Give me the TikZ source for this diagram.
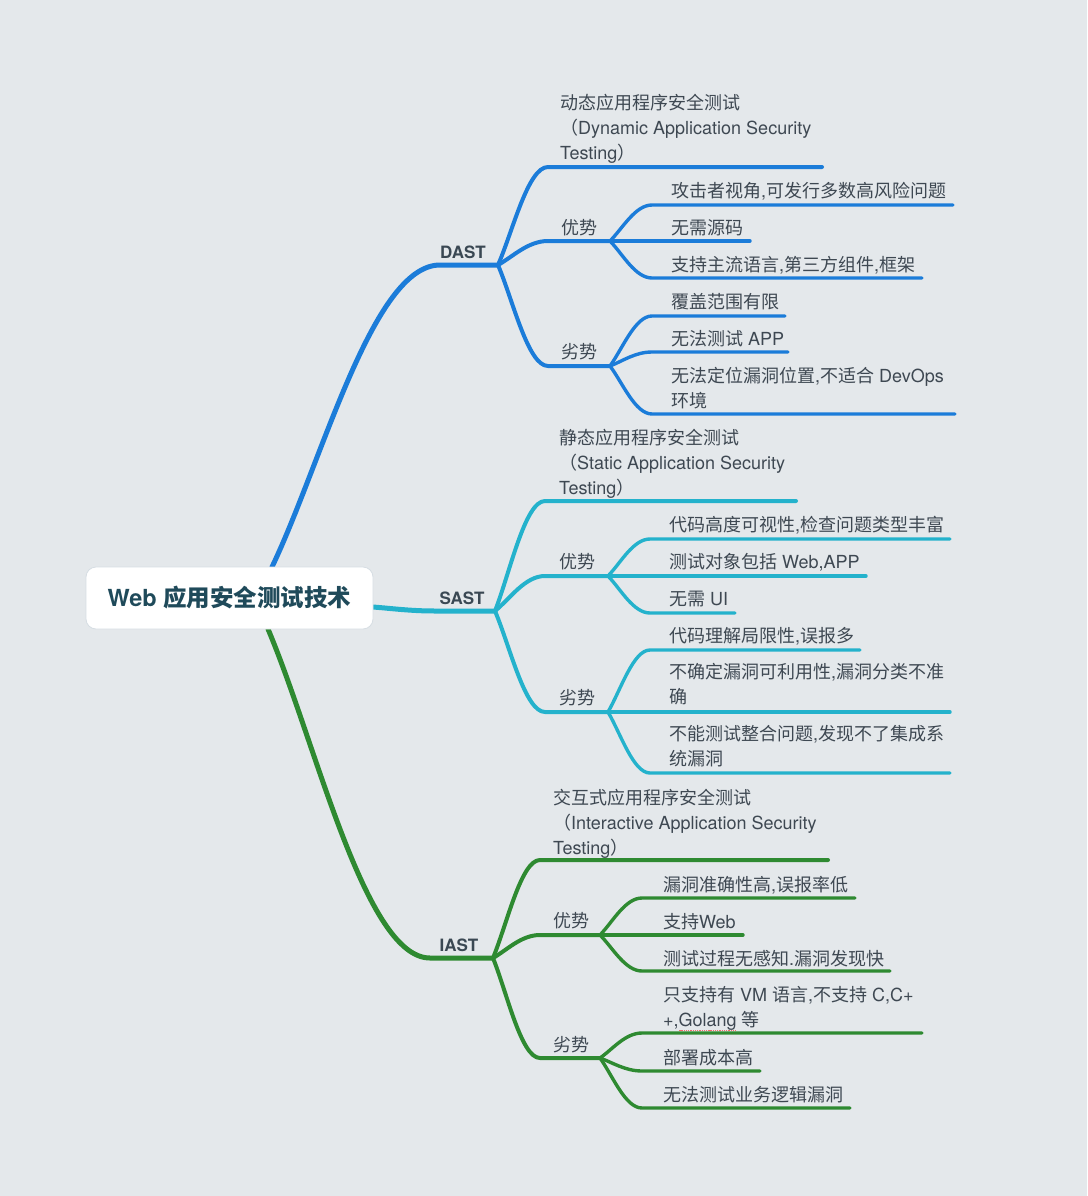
\documentclass[tikz,border=0pt]{standalone}
\usepackage{fontspec}
\setmainfont{TeX Gyre Heros}
\newfontfamily\cjkf{Noto Sans CJK SC}
% automatic switch to the CJK family for CJK characters
\XeTeXinterchartokenstate=1
\newXeTeXintercharclass\CJKcls
\newcount\tmpc
\tmpc="3000 \loop \XeTeXcharclass\tmpc=\CJKcls \advance\tmpc by 1 \ifnum\tmpc<"3040 \repeat
\tmpc="4E00 \loop \XeTeXcharclass\tmpc=\CJKcls \advance\tmpc by 1 \ifnum\tmpc<"A000 \repeat
\tmpc="FF00 \loop \XeTeXcharclass\tmpc=\CJKcls \advance\tmpc by 1 \ifnum\tmpc<"FF61 \repeat
\XeTeXinterchartoks 0 \CJKcls = {\begingroup\cjkf}
\XeTeXinterchartoks 4095 \CJKcls = {\begingroup\cjkf}
\XeTeXinterchartoks \CJKcls 0 = {\endgroup}
\XeTeXinterchartoks \CJKcls 4095 = {\endgroup}
\usetikzlibrary{calc}
\definecolor{bgc}{HTML}{E4E8EB}
\definecolor{dblue}{HTML}{1B7CD9}
\definecolor{scyan}{HTML}{24B2CC}
\definecolor{igreen}{HTML}{2E8A31}
\definecolor{txt}{HTML}{3E4852}
\definecolor{labtxt}{HTML}{3A4853}
\definecolor{roottxt}{HTML}{1F4A5A}
\definecolor{rootborder}{HTML}{D6DDE3}
\definecolor{spellred}{HTML}{F06A6A}
\pgfdeclarelayer{bglayer}
\pgfdeclarelayer{lines}
\pgfsetlayers{bglayer,lines,main}
\newcommand\spellmark[1]{\setbox0=\hbox{#1}\rlap{\raisebox{-4pt}{\color{spellred}\xleaders\hbox to 2.2pt{\hss\rule{1.3pt}{1.3pt}\hss}\hskip\wd0}}#1}
\tikzset{
  curve/.style={to path={let \p1=(\tikztostart), \p2=(\tikztotarget) in
      .. controls ({\x1+0.3*(\x2-\x1)},{\y1+0.35*(\y2-\y1)}) and ({\x1+0.6*(\x2-\x1)},\y2) .. (\tikztotarget)}},
  txtbase/.style={inner sep=0pt, text=txt, font=\fontsize{18}{25}\selectfont, align=left},
  txtn/.style={txtbase, anchor=west, text height=0.88em, text depth=0.12em, yshift=-3pt},
  multi/.style={txtbase, anchor=north west},
  lab/.style={inner sep=0pt, text=labtxt, font=\bfseries\fontsize{17}{20}\selectfont},
  rootbox/.style={draw=rootborder, line width=0.8pt, fill=white, rounded corners=10pt, minimum width=287pt, minimum height=62pt, inner sep=0pt, text=roottxt, font=\bfseries\fontsize{23.5}{26}\selectfont},
  l1/.style={line width=5pt, line cap=round, line join=round},
  l2/.style={line width=4pt, line cap=round, line join=round},
  l3/.style={line width=3.4pt, line cap=round, line join=round}
}
\begin{document}
\begin{tikzpicture}[x=1pt,y=-1pt]
\begin{pgfonlayer}{bglayer}
\fill[bgc] (0,0) rectangle (1087,1196);
\end{pgfonlayer}
\useasboundingbox (0,0) rectangle (1087,1196);

% root
\node[rootbox] (root) at (229.5,598) {Web 应用安全测试技术};
\coordinate (rD) at (272,567);
\coordinate (rS) at (373,607);
\coordinate (rI) at (268,629);

% ===== DAST =====
\coordinate (dH) at (440,265); \coordinate (dJ) at (498,265);
\node[lab] (dast) at (463,252) {DAST};
\node[multi] (dT) at (560,93.5) {动态应用程序安全测试\\（Dynamic Application Security\\Testing）};
\coordinate (dTs) at (548,167); \coordinate (dTe) at (822,167);
\node[txtn] (dA) at (561,227.5) {优势};
\coordinate (dAs) at (548,241); \coordinate (dAj) at (610,241);
\node[txtn] (dB) at (561,351.5) {劣势};
\coordinate (dBs) at (548,366); \coordinate (dBj) at (610,366);
\node[txtn] (dA1) at (671,190.5) {攻击者视角,可发行多数高风险问题};
\coordinate (dA1s) at (652,205); \coordinate (dA1e) at (953,205);
\node[txtn] (dA2) at (671,227.5) {无需源码};
\coordinate (dA2e) at (750,241);
\node[txtn] (dA3) at (671,264.5) {支持主流语言,第三方组件,框架};
\coordinate (dA3s) at (652,278); \coordinate (dA3e) at (922,278);
\node[txtn] (dB1) at (671,301.5) {覆盖范围有限};
\coordinate (dB1s) at (652,316); \coordinate (dB1e) at (785,316);
\node[txtn] (dB2) at (671,338.5) {无法测试 APP};
\coordinate (dB2s) at (652,352); \coordinate (dB2e) at (788,352);
\node[multi] (dB3) at (671,367.5) {无法定位漏洞位置,不适合 DevOps\\环境};
\coordinate (dB3s) at (652,414); \coordinate (dB3e) at (955,414);

% ===== SAST =====
\coordinate (sH) at (435,611); \coordinate (sJ) at (495,611);
\node[lab] (sast) at (462,598.5) {SAST};
\node[multi] (sT) at (559,428.5) {静态应用程序安全测试\\（Static Application Security\\Testing）};
\coordinate (sTs) at (545,501); \coordinate (sTe) at (796,501);
\node[txtn] (sA) at (559,561.5) {优势};
\coordinate (sAs) at (545,576); \coordinate (sAj) at (608,576);
\node[txtn] (sB) at (559,697.5) {劣势};
\coordinate (sBs) at (545,712); \coordinate (sBj) at (608,712);
\node[txtn] (sA1) at (669,524.5) {代码高度可视性,检查问题类型丰富};
\coordinate (sA1s) at (650,539); \coordinate (sA1e) at (950,539);
\node[txtn] (sA2) at (669,561.5) {测试对象包括 Web,APP};
\coordinate (sA2e) at (866,576);
\node[txtn] (sA3) at (669,598.5) {无需 UI};
\coordinate (sA3s) at (650,613); \coordinate (sA3e) at (735,613);
\node[txtn] (sB1) at (669,635.5) {代码理解局限性,误报多};
\coordinate (sB1s) at (650,650); \coordinate (sB1e) at (860,650);
\node[multi] (sB2) at (669,663.5) {不确定漏洞可利用性,漏洞分类不准\\确};
\coordinate (sB2e) at (950,712);
\node[multi] (sB3) at (669,725.5) {不能测试整合问题,发现不了集成系\\统漏洞};
\coordinate (sB3s) at (650,773); \coordinate (sB3e) at (950,773);

% ===== IAST =====
\coordinate (iH) at (430,958); \coordinate (iJ) at (493,958);
\node[lab] (iast) at (459,945.5) {IAST};
\node[multi] (iT) at (553,788.5) {交互式应用程序安全测试\\（Interactive Application Security\\Testing）};
\coordinate (iTs) at (540,860); \coordinate (iTe) at (828,860);
\node[txtn] (iA) at (553,920.5) {优势};
\coordinate (iAs) at (540,935); \coordinate (iAj) at (600,935);
\node[txtn] (iB) at (553,1044.5) {劣势};
\coordinate (iBs) at (540,1058); \coordinate (iBj) at (600,1058);
\node[txtn] (iA1) at (663,884.5) {漏洞准确性高,误报率低};
\coordinate (iA1s) at (642,898); \coordinate (iA1e) at (855,898);
\node[txtn] (iA2) at (663,921.5) {支持Web};
\coordinate (iA2e) at (743,935);
\node[txtn] (iA3) at (663,958.5) {测试过程无感知.漏洞发现快};
\coordinate (iA3s) at (642,971); \coordinate (iA3e) at (890,971);
\node[multi] (iB1) at (663,986.5) {只支持有 VM 语言,不支持 C,C+\\+,\spellmark{Golang} 等};
\coordinate (iB1s) at (642,1033); \coordinate (iB1e) at (922,1033);
\node[txtn] (iB2) at (663,1057.5) {部署成本高};
\coordinate (iB2s) at (642,1071); \coordinate (iB2e) at (760,1071);
\node[txtn] (iB3) at (663,1094.5) {无法测试业务逻辑漏洞};
\coordinate (iB3s) at (642,1108); \coordinate (iB3e) at (850,1108);

\begin{pgfonlayer}{lines}
% DAST
\draw[l1,dblue] (rD) to[curve] (dH) -- (dJ);
\draw[l2,dblue] (dJ) to[curve] (dTs) -- (dTe);
\draw[l2,dblue] (dJ) to[curve] (dAs) -- (dAj);
\draw[l2,dblue] (dJ) to[curve] (dBs) -- (dBj);
\draw[l3,dblue] (dAj) to[curve] (dA1s) -- (dA1e);
\draw[l3,dblue] (dAj) -- (dA2e);
\draw[l3,dblue] (dAj) to[curve] (dA3s) -- (dA3e);
\draw[l3,dblue] (dBj) to[curve] (dB1s) -- (dB1e);
\draw[l3,dblue] (dBj) to[curve] (dB2s) -- (dB2e);
\draw[l3,dblue] (dBj) to[curve] (dB3s) -- (dB3e);
% SAST
\draw[l1,scyan] (rS) to[curve] (sH) -- (sJ);
\draw[l2,scyan] (sJ) to[curve] (sTs) -- (sTe);
\draw[l2,scyan] (sJ) to[curve] (sAs) -- (sAj);
\draw[l2,scyan] (sJ) to[curve] (sBs) -- (sBj);
\draw[l3,scyan] (sAj) to[curve] (sA1s) -- (sA1e);
\draw[l3,scyan] (sAj) -- (sA2e);
\draw[l3,scyan] (sAj) to[curve] (sA3s) -- (sA3e);
\draw[l3,scyan] (sBj) to[curve] (sB1s) -- (sB1e);
\draw[l3,scyan] (sBj) -- (sB2e);
\draw[l3,scyan] (sBj) to[curve] (sB3s) -- (sB3e);
% IAST
\draw[l1,igreen] (rI) to[curve] (iH) -- (iJ);
\draw[l2,igreen] (iJ) to[curve] (iTs) -- (iTe);
\draw[l2,igreen] (iJ) to[curve] (iAs) -- (iAj);
\draw[l2,igreen] (iJ) to[curve] (iBs) -- (iBj);
\draw[l3,igreen] (iAj) to[curve] (iA1s) -- (iA1e);
\draw[l3,igreen] (iAj) -- (iA2e);
\draw[l3,igreen] (iAj) to[curve] (iA3s) -- (iA3e);
\draw[l3,igreen] (iBj) to[curve] (iB1s) -- (iB1e);
\draw[l3,igreen] (iBj) to[curve] (iB2s) -- (iB2e);
\draw[l3,igreen] (iBj) to[curve] (iB3s) -- (iB3e);
\end{pgfonlayer}
\end{tikzpicture}
\end{document}
